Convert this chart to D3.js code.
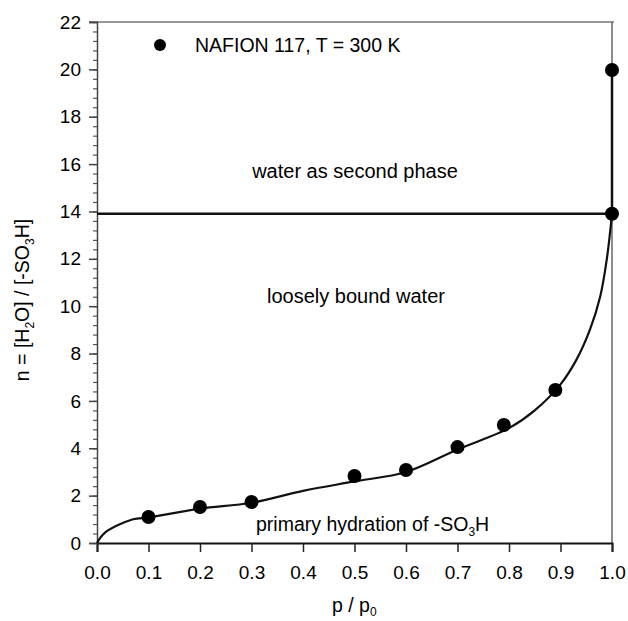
<!DOCTYPE html>
<html>
<head>
<meta charset="utf-8">
<script src="https://cdn.jsdelivr.net/npm/d3@7"></script>
<style>
  body { margin: 0; background: #fff; }
  text { font-family: "Liberation Sans", Arial, sans-serif; fill: #000; }
</style>
</head>
<body>
<div id="chart"></div>
<script>
// measured points (p/p0, n)
var pointP = [0.1, 0.2, 0.3, 0.5, 0.6, 0.7, 0.79, 0.89, 1.0, 1.0];
var pointN = [1.1, 1.52, 1.73, 2.83, 3.08, 4.05, 4.98, 6.46, 13.9, 19.97];

// fitted isotherm curve
var curveP = [0, 0.015, 0.07, 0.1, 0.2, 0.3, 0.4, 0.5, 0.6, 0.7, 0.8, 0.85, 0.9, 0.93, 0.957, 0.977, 0.99, 1.0];
var curveN = [0, 0.43, 1.0, 1.08, 1.45, 1.7, 2.2, 2.6, 3.0, 3.95, 4.85, 5.6, 6.7, 7.7, 9.0, 10.4, 12.0, 13.9];

// second-phase boundary
var phaseN = 13.9;
var phaseTop = 19.97;

var xTicks = [0, 0.1, 0.2, 0.3, 0.4, 0.5, 0.6, 0.7, 0.8, 0.9, 1.0];
var yTicks = [0, 2, 4, 6, 8, 10, 12, 14, 16, 18, 20, 22];
var yMinor = d3.range(0, 22.001, 0.4);

var W = 628, H = 621;
var x = d3.scaleLinear().domain([0, 1]).range([97, 612]);
var y = d3.scaleLinear().domain([0, 22]).range([543, 22]);

var svg = d3.select("#chart").append("svg")
  .attr("width", W)
  .attr("height", H);

svg.append("rect").attr("width", W).attr("height", H).attr("fill", "#fff");

// frame: top + right
svg.append("line")
  .attr("x1", x(0) - 8).attr("x2", x(1) + 2)
  .attr("y1", y(22)).attr("y2", y(22))
  .attr("stroke", "#777").attr("stroke-width", 1.5);
svg.append("line")
  .attr("x1", x(1)).attr("x2", x(1))
  .attr("y1", y(22)).attr("y2", y(0))
  .attr("stroke", "#666").attr("stroke-width", 1.5);

// x axis
var xAxis = svg.append("g")
  .attr("transform", "translate(0," + y(0) + ")")
  .call(d3.axisBottom(x).tickValues(xTicks).tickFormat(d3.format(".1f")).tickSize(9).tickPadding(14));
xAxis.select(".domain").attr("stroke", "#111").attr("stroke-width", 2);
xAxis.selectAll(".tick line").attr("stroke", "#222").attr("stroke-width", 1.5);
xAxis.selectAll("text").attr("font-size", 19).attr("fill", "#000")
  .style("font-family", "Liberation Sans, Arial, sans-serif");

// y axis (minor ticks first)
var yMinorAxis = svg.append("g")
  .attr("transform", "translate(" + x(0) + ",0)")
  .call(d3.axisLeft(y).tickValues(yMinor).tickSize(4).tickFormat(""));
yMinorAxis.select(".domain").remove();
yMinorAxis.selectAll(".tick line").attr("stroke", "#555").attr("stroke-width", 1.2);

var yAxis = svg.append("g")
  .attr("transform", "translate(" + x(0) + ",0)")
  .call(d3.axisLeft(y).tickValues(yTicks).tickSize(8).tickPadding(8));
yAxis.select(".domain").attr("stroke", "#444").attr("stroke-width", 1.5);
yAxis.selectAll(".tick line").attr("stroke", "#444").attr("stroke-width", 1.5);
yAxis.selectAll("text").attr("font-size", 19).attr("fill", "#000")
  .style("font-family", "Liberation Sans, Arial, sans-serif");

// phase boundary lines
svg.append("line")
  .attr("x1", x(0)).attr("x2", x(1))
  .attr("y1", y(phaseN)).attr("y2", y(phaseN))
  .attr("stroke", "#111").attr("stroke-width", 2.5);
svg.append("line")
  .attr("x1", x(1)).attr("x2", x(1))
  .attr("y1", y(phaseN)).attr("y2", y(phaseTop))
  .attr("stroke", "#111").attr("stroke-width", 2.5);

// isotherm curve
var curveData = curveP.map(function(p, i) { return { p: p, n: curveN[i] }; });
var line = d3.line()
  .x(function(d) { return x(d.p); })
  .y(function(d) { return y(d.n); })
  .curve(d3.curveCatmullRom.alpha(0.5));
svg.append("path")
  .datum(curveData)
  .attr("d", line)
  .attr("fill", "none")
  .attr("stroke", "#111")
  .attr("stroke-width", 2.2);

// measured points
var pts = pointP.map(function(p, i) { return { p: p, n: pointN[i] }; });
svg.selectAll(".pt")
  .data(pts)
  .enter().append("circle")
  .attr("class", "pt")
  .attr("cx", function(d) { return x(d.p); })
  .attr("cy", function(d) { return y(d.n); })
  .attr("r", 7)
  .attr("fill", "#000");

// legend
svg.append("circle").attr("cx", 160).attr("cy", 45).attr("r", 6).attr("fill", "#000");
svg.append("text").attr("x", 195).attr("y", 52).attr("font-size", 19.5)
  .text("NAFION 117, T = 300 K");

// region labels
svg.append("text").attr("x", 355).attr("y", 178).attr("font-size", 20)
  .attr("text-anchor", "middle").text("water as second phase");
svg.append("text").attr("x", 356).attr("y", 303).attr("font-size", 20)
  .attr("text-anchor", "middle").text("loosely bound water");

var prim = svg.append("text").attr("x", 256).attr("y", 531).attr("font-size", 19.5);
prim.append("tspan").text("primary hydration of -SO");
prim.append("tspan").attr("font-size", 12).attr("dy", 5).text("3");
prim.append("tspan").attr("dy", -5).text("H");

// x label
var xl = svg.append("text").attr("x", 332).attr("y", 612).attr("font-size", 19.5);
xl.append("tspan").text("p / p");
xl.append("tspan").attr("font-size", 12).attr("dy", 4).text("0");

// y label
var yl = svg.append("text")
  .attr("transform", "translate(29,300) rotate(-90)")
  .attr("text-anchor", "middle")
  .attr("font-size", 19.5);
yl.append("tspan").text("n = [H");
yl.append("tspan").attr("font-size", 12).attr("dy", 5).text("2");
yl.append("tspan").attr("dy", -5).text("O] / [-SO");
yl.append("tspan").attr("font-size", 12).attr("dy", 5).text("3");
yl.append("tspan").attr("dy", -5).text("H]");
</script>
</body>
</html>
